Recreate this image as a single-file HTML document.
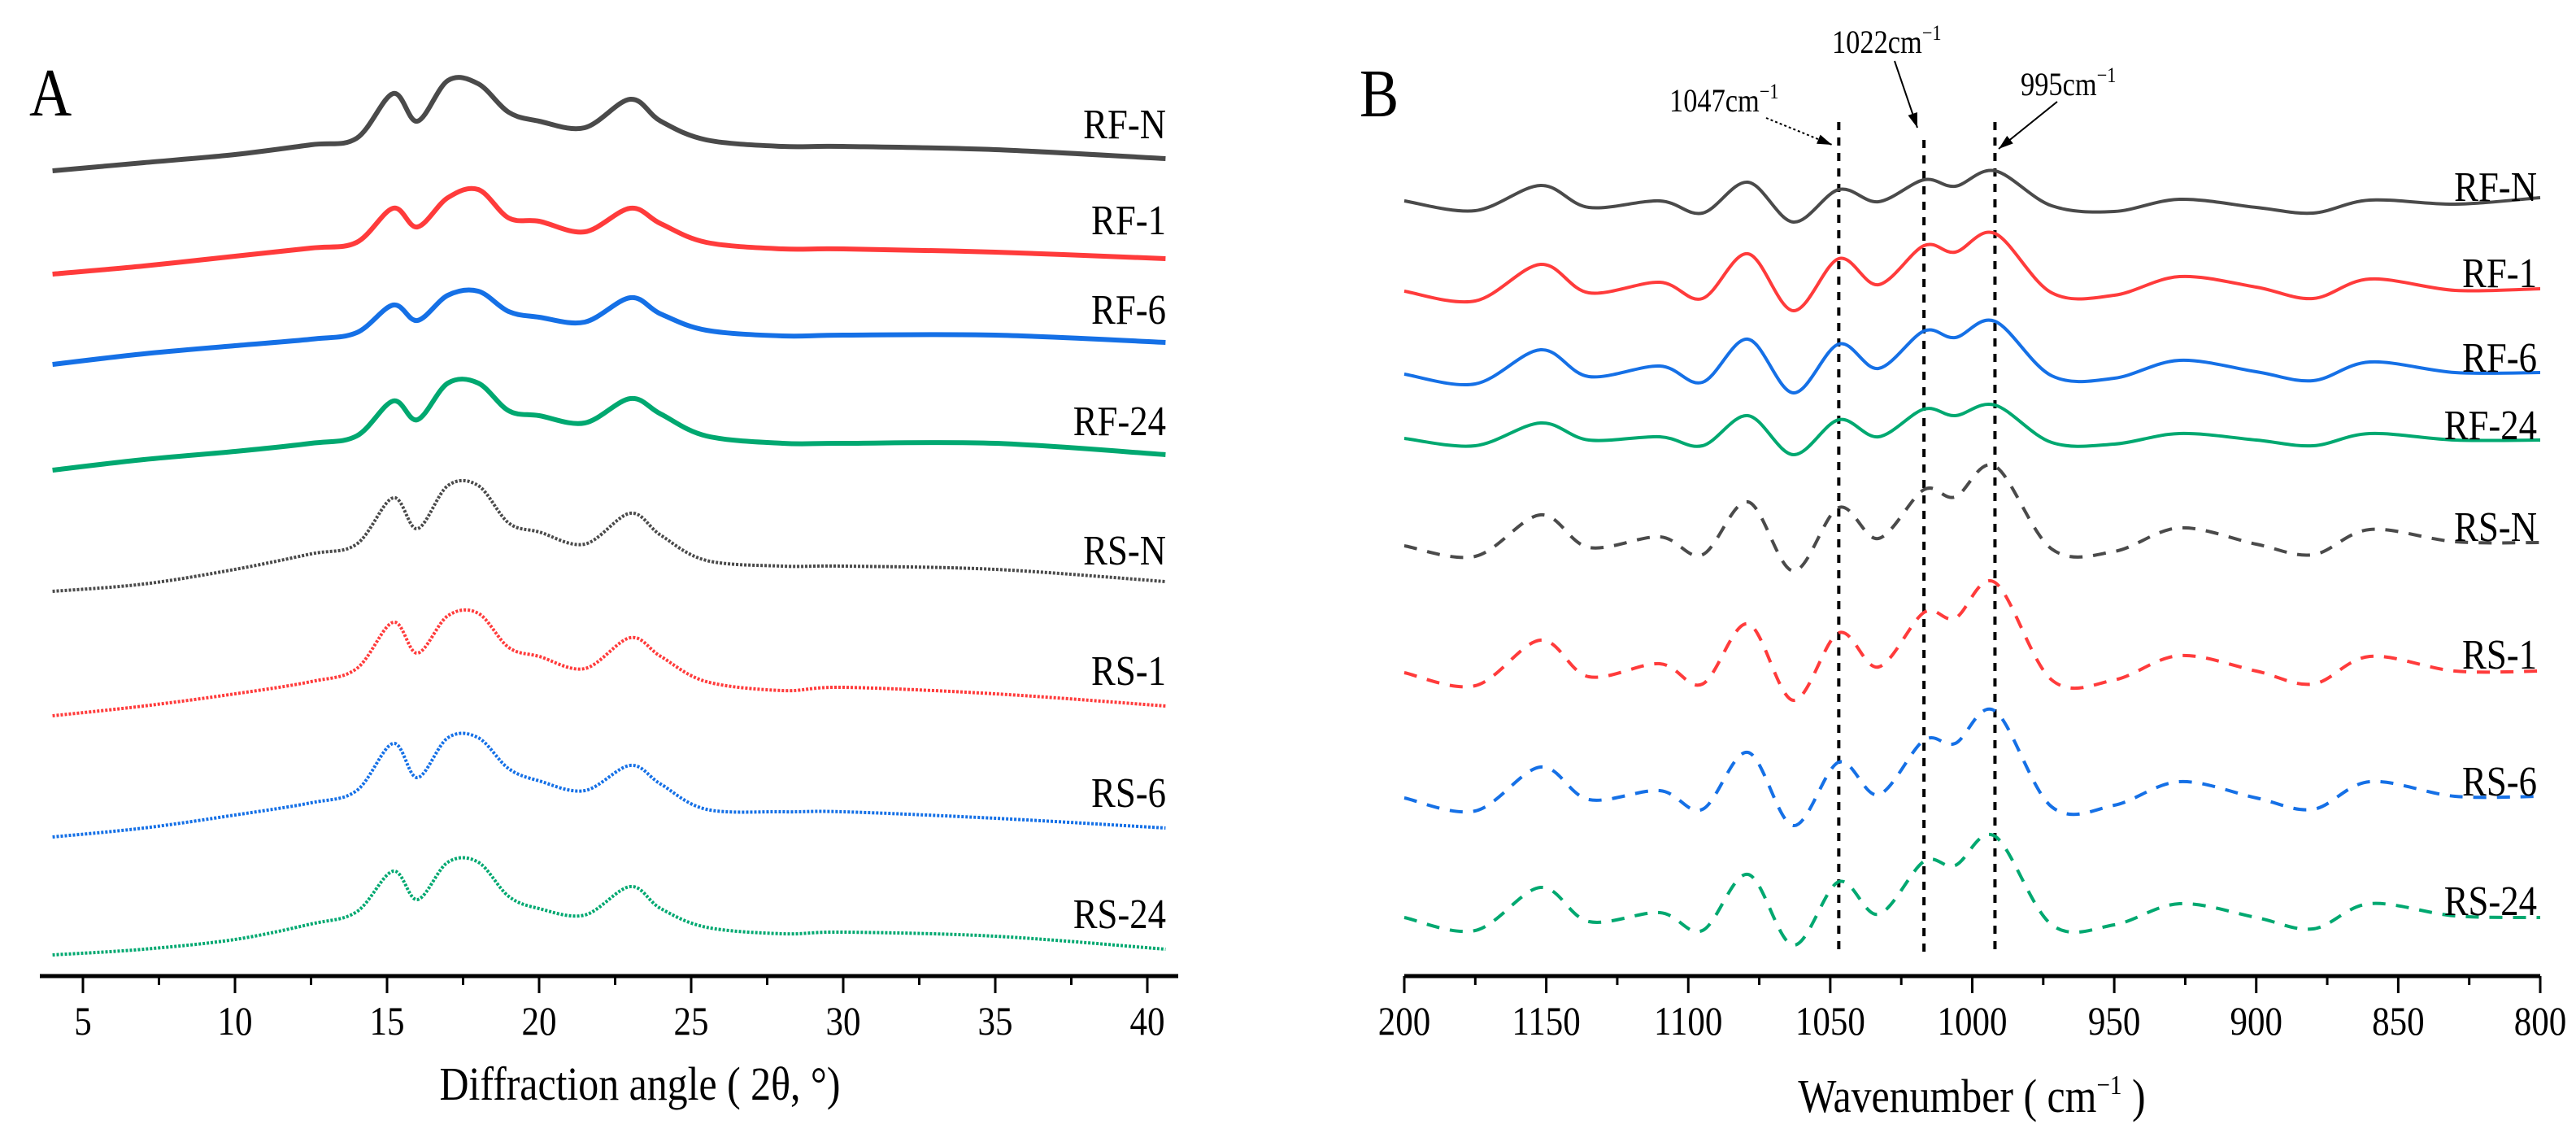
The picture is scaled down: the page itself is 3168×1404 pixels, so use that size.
<!DOCTYPE html>
<html><head><meta charset="utf-8"><style>
html,body{margin:0;padding:0;background:#fff}
svg{display:block}
text{font-family:"Liberation Serif",serif;fill:#000}
</style></head><body>
<svg id="fig" width="3168" height="1404" viewBox="0 0 3168 1404" xmlns="http://www.w3.org/2000/svg">
<rect width="3168" height="1404" fill="#fff"/>
<g id="panelA"></g>
<g id="panelB"></g>
</svg>
<script>
// ---- Panel A data (XRD) ----
const xrdAngles = [4,7,10,12.5,14,15.2,16,17,18,19,20,21.5,23,24,25.5,28,30,35,40.6];
const xrdRFN  = [980,990,1000,1012,1020,1075,1041,1091,1087,1052,1041,1033,1068,1041,1018,1010,1010,1006,995];
const xrdRF1  = [853,863,875,885,892,934,911,947,957,922,918,905,934,915,892,884,884,880,872];
const xrdRF6  = [742,755,765,773,781,815,796,827,832,807,800,794,824,804,784,777,778,778,769];
const xrdRF24 = [612,625,635,645,654,697,674,719,719,685,679,670,700,681,654,645,645,645,631];
const xrdRSN  = [463,472,490,509,521,578,540,593,593,547,536,521,559,532,501,494,494,490,475];
const xrdRS1  = [310,322,337,352,368,425,387,433,436,394,383,368,406,383,352,341,345,337,322];
const xrdRS6  = [161,172,188,203,218,276,234,283,283,245,230,218,249,226,195,192,192,184,172];
const xrdRS24 = [16,23,35,54,69,119,84,130,130,88,73,65,100,73,50,42,44,39,23];
const xrdTicks = [5,10,15,20,25,30,35,40];
const xrdNames = ["RF-N","RF-1","RF-6","RF-24","RS-N","RS-1","RS-6","RS-24"];
const xrdLabelVals = [1010,892,782,645,486,338,188,39];

// ---- Panel B data (FTIR) ----
const ftWave = [1200,1175,1152,1135,1110,1095,1079,1063,1047,1033,1017,1006,992,972,950,927,900,880,860,830,800];
const ftRFN  = [943,931,962,935,943,928,966,917,957,942,969,961,980,937,930,945,935,928,944,939,947];
const ftRF1  = [832,820,865,830,843,823,878,808,872,840,888,880,903,830,827,850,837,823,847,833,835];
const ftRF6  = [730,718,760,727,740,720,773,707,767,737,783,775,795,728,725,747,733,722,745,732,732];
const ftRF24 = [651,642,670,649,653,642,679,631,674,653,687,679,692,646,644,657,649,642,657,649,649];
const ftRSN  = [519,506,557,517,530,508,573,488,566,528,588,579,617,515,512,541,521,508,539,524,523];
const ftRS1  = [363,347,403,358,374,349,423,329,412,370,437,430,474,354,354,384,365,349,383,365,365];
const ftRS6  = [209,193,247,207,218,195,265,175,253,213,280,276,316,198,200,229,209,195,229,211,211];
const ftRS24 = [62,46,99,57,68,46,115,28,106,66,131,126,162,53,53,79,62,48,79,64,62];
const ftTicks = [1200,1150,1100,1050,1000,950,900,850,800];
const ftTickLabels = ["200","1150","1100","1050","1000","950","900","850","800"];
const ftMarkers = [1047,1017,992];
const ftNames = ["RF-N","RF-1","RF-6","RF-24","RS-N","RS-1","RS-6","RS-24"];
const ftLabelVals = [953,847,743,660,535,378,222,75];

const colors = ["#4a4a4a","#ff3b3b","#1570e6","#00a870","#4a4a4a","#ff3b3b","#1570e6","#00a870"];
const NS = "http://www.w3.org/2000/svg";
function mk(tag, attrs, parent){const e=document.createElementNS(NS,tag);for(const k in attrs)e.setAttribute(k,attrs[k]);parent.appendChild(e);return e;}
function smoothPath(pts){
  let d="M"+pts[0][0].toFixed(1)+","+pts[0][1].toFixed(1);
  for(let i=0;i<pts.length-1;i++){
    const p0=pts[Math.max(0,i-1)],p1=pts[i],p2=pts[i+1],p3=pts[Math.min(pts.length-1,i+2)];
    const c1x=p1[0]+(p2[0]-p0[0])/6,c1y=p1[1]+(p2[1]-p0[1])/6;
    const c2x=p2[0]-(p3[0]-p1[0])/6,c2y=p2[1]-(p3[1]-p1[1])/6;
    d+=" C"+c1x.toFixed(1)+","+c1y.toFixed(1)+" "+c2x.toFixed(1)+","+c2y.toFixed(1)+" "+p2[0].toFixed(1)+","+p2[1].toFixed(1);
  }
  return d;
}
const yScale = v => 1190 - v;

// ---- Panel A ----
const gA = document.getElementById("panelA");
const xA = a => 102 + (a-5)*37.4;
const AY = 1200;
const axA = mk("line",{x1:49,y1:AY,x2:1449,y2:AY,stroke:"#000","stroke-width":5},gA);


for(let t=2.5;t<=42.5;t+=2.5){const x=xA(t);if(x<49||x>1449)continue;const maj=(t%5===0);
  const tk=mk("line",{x1:x,y1:AY,x2:x,y2:AY+(maj?21:11),stroke:"#000","stroke-width":3},gA);
  
  }
xrdTicks.forEach(t=>{const e=mk("text",{x:xA(t),y:1272,"font-size":50,"text-anchor":"middle"},gA);e.textContent=t;
  
  });
const ta=mk("text",{x:787,y:1352,"font-size":58,"text-anchor":"middle"},gA);ta.textContent="Diffraction angle ( 2θ, °)";


const la=mk("text",{x:36,y:142,"font-size":84},gA);la.textContent="A";


[xrdRFN,xrdRF1,xrdRF6,xrdRF24,xrdRSN,xrdRS1,xrdRS6,xrdRS24].forEach((s,i)=>{
  const pts=xrdAngles.map((a,j)=>[xA(a),yScale(s[j])]);
  const p=mk("path",{d:smoothPath(pts),fill:"none",stroke:colors[i],"stroke-width":i<4?6:4,"stroke-linejoin":"round","stroke-dasharray":i<4?"none":"3 2"},gA);
  
  
  const t=mk("text",{x:1434,y:yScale(xrdLabelVals[i])-10,"font-size":52,"text-anchor":"end"},gA);t.textContent=xrdNames[i];
  
  
});

// ---- Panel B ----
const gB = document.getElementById("panelB");
const xB = w => 1727 + (1200-w)*3.4925;
const axB = mk("line",{x1:1727,y1:AY,x2:3124,y2:AY,stroke:"#000","stroke-width":5},gB);


for(let w=1200;w>=800;w-=25){const x=xB(w);const maj=(w%50===0);
  const tk=mk("line",{x1:x,y1:AY,x2:x,y2:AY+(maj?21:11),stroke:"#000","stroke-width":3},gB);
  
  }
ftTicks.forEach((t,i)=>{const e=mk("text",{x:xB(t),y:1272,"font-size":50,"text-anchor":"middle"},gB);e.textContent=ftTickLabels[i];
  
  });
const tb=mk("text",{x:2425,y:1367,"font-size":58,"text-anchor":"middle"},gB);tb.innerHTML='Wavenumber ( cm<tspan dy="-22" font-size="34">−1</tspan><tspan dy="22"> )</tspan>';


const lb=mk("text",{x:1672,y:143,"font-size":84},gB);lb.textContent="B";


ftMarkers.forEach((w,i)=>{const l=mk("line",{x1:xB(w),y1:i===1?172:150,x2:xB(w),y2:1170,stroke:"#000","stroke-width":4,"stroke-dasharray":"10 9"},gB);
  
  });
[ftRFN,ftRF1,ftRF6,ftRF24,ftRSN,ftRS1,ftRS6,ftRS24].forEach((s,i)=>{
  const pts=ftWave.map((w,j)=>[xB(w),yScale(s[j])]);
  const p=mk("path",{d:smoothPath(pts),fill:"none",stroke:colors[i],"stroke-width":4,"stroke-dasharray":i<4?"none":"16 13"},gB);
  
  
  const t=mk("text",{x:3120,y:yScale(ftLabelVals[i])+10,"font-size":52,"text-anchor":"end"},gB);t.textContent=ftNames[i];
  
  
});
// annotations
const ann=[["1047cm",2053,137,2172,145,2253,178],["1022cm",2253,65,2330,75,2358,157],["995cm",2485,117,2530,125,2458,183]];
ann.forEach(a=>{
  const t=mk("text",{x:a[1],y:a[2],"font-size":40},gB);t.innerHTML=a[0]+'<tspan dy="-16" font-size="26">−1</tspan>';
  
  
  const l=mk("line",{x1:a[3],y1:a[4],x2:a[5],y2:a[6],stroke:"#000","stroke-width":2,"stroke-dasharray":a[0]==="1047cm"?"3 3":"none"},gB);
  
  
  const ang=Math.atan2(a[6]-a[4],a[5]-a[3]);const L=18,W=6;
  const bx=a[5]-L*Math.cos(ang),by=a[6]-L*Math.sin(ang);
  const h=mk("polygon",{points:`${a[5]},${a[6]} ${bx-W*Math.sin(ang)},${by+W*Math.cos(ang)} ${bx+W*Math.sin(ang)},${by-W*Math.cos(ang)}`,fill:"#000"},gB);
  
  
});
// condense glyphs horizontally to mimic the narrow Times face of the reference
document.querySelectorAll("#fig text").forEach(t=>{
  const x=parseFloat(t.getAttribute("x"));
  t.setAttribute("transform",`translate(${x},0) scale(0.86,1) translate(${-x},0)`);
});
</script>
</body></html>
